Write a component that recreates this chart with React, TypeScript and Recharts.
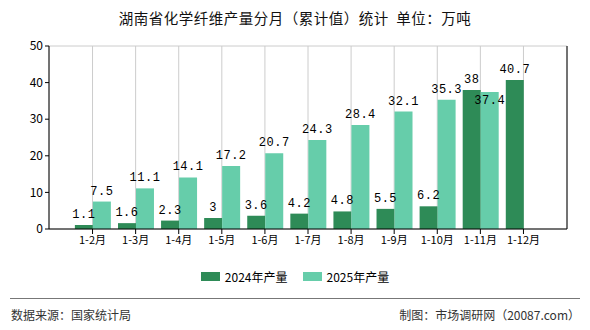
import { Bar, BarChart, CartesianGrid, LabelList, XAxis, YAxis } from "recharts";

const months = ["1-2月", "1-3月", "1-4月", "1-5月", "1-6月", "1-7月", "1-8月", "1-9月", "1-10月", "1-11月", "1-12月"];
const output2024 = [1.1, 1.6, 2.3, 3, 3.6, 4.2, 4.8, 5.5, 6.2, 38, 40.7];
const output2025 = [7.5, 11.1, 14.1, 17.2, 20.7, 24.3, 28.4, 32.1, 35.3, 37.4, null];
const yTicks = [0, 10, 20, 30, 40, 50];

const C2024 = "#2e8b57";
const C2025 = "#66cdaa";
const FONT = "'Noto Sans CJK SC', 'Noto Sans', sans-serif";

const data = months.map((m, i) => ({ month: m, a: output2024[i], b: output2025[i] }));

// label above the bar; the 1-11月 2025 value sits just under its bar top (as in the source)
function TopLabel(props: any) {
  const { x, y, width, value, index, series } = props;
  if (value == null) return null;
  const inside = series === "b" && index === 9;
  return (
    <text
      x={x + width / 2}
      y={inside ? y + 12 : y - 7}
      textAnchor="middle"
      fontSize={12}
      fill="#000"
      letterSpacing={0.5}
      fontFamily="'Liberation Mono', monospace"
    >
      {value}
    </text>
  );
}

export default function App() {
  return (
    <div style={{ position: "absolute", left: 0, top: 0, width: 590, height: 330, background: "#fff", fontFamily: FONT }}>
      <div style={{ position: "absolute", top: 7, width: 590, textAlign: "center", fontSize: 14.5, color: "#111", letterSpacing: 0.5 }}>
        湖南省化学纤维产量分月（累计值）统计&nbsp;&nbsp;单位：万吨
      </div>
      <div style={{ position: "absolute", top: 0, left: 0 }}>
        <BarChart
          width={590}
          height={260}
          data={data}
          margin={{ top: 46, right: 22, left: 9, bottom: 11 }}
          barCategoryGap="9%"
          barGap={0}
        >
          <CartesianGrid stroke="#cccccc" />
          <XAxis
            dataKey="month"
            padding={{ left: 22, right: 22 }}
            axisLine={{ stroke: "#000" }}
            tickLine={{ stroke: "#000" }}
            tick={{ fontSize: 11, fill: "#000" }}
            tickSize={5}
            interval={0}
            height={20}
          />
          <YAxis
            yAxisId="l"
            domain={[0, 50]}
            ticks={yTicks}
            width={40}
            axisLine={{ stroke: "#000" }}
            tickLine={{ stroke: "#000" }}
            tick={{ fontSize: 12, fill: "#000" }}
            tickSize={4}
          />
          <YAxis yAxisId="r" orientation="right" width={1} tick={false} tickLine={false} axisLine={{ stroke: "#000" }} domain={[0, 50]} />
          <Bar yAxisId="l" dataKey="a" fill={C2024} name="2024年产量" isAnimationActive={false}>
            <LabelList dataKey="a" content={(p: any) => <TopLabel {...p} series="a" />} />
          </Bar>
          <Bar yAxisId="l" dataKey="b" fill={C2025} name="2025年产量" isAnimationActive={false}>
            <LabelList dataKey="b" content={(p: any) => <TopLabel {...p} series="b" />} />
          </Bar>
        </BarChart>
      </div>
      <div style={{ position: "absolute", top: 268, left: 0, width: 590, display: "flex", justifyContent: "center", fontSize: 12, color: "#000" }}>
        {[
          { name: "2024年产量", color: C2024 },
          { name: "2025年产量", color: C2025 },
        ].map((s, i) => (
          <div key={s.name} style={{ display: "flex", alignItems: "center", marginLeft: i ? 15 : 0 }}>
            <span style={{ display: "inline-block", width: 19, height: 9, background: s.color, marginRight: 5 }} />
            {s.name}
          </div>
        ))}
      </div>
      <div style={{ position: "absolute", top: 298, left: 10, width: 570, borderTop: "1px solid #777" }} />
      <div style={{ position: "absolute", top: 306, left: 11, fontSize: 12, color: "#333" }}>数据来源：国家统计局</div>
      <div style={{ position: "absolute", top: 306, right: 10, fontSize: 12, color: "#333" }}>制图：市场调研网（20087.com）</div>
    </div>
  );
}
